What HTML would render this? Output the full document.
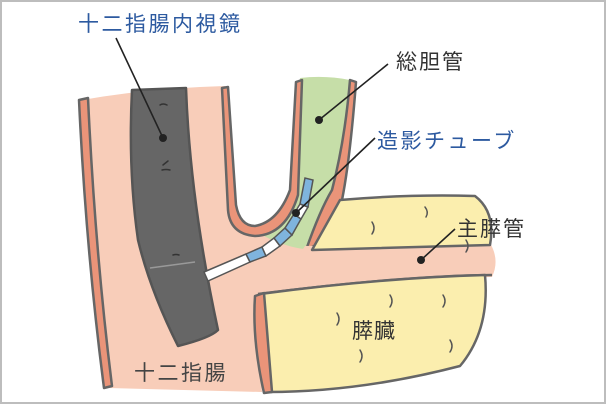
<!DOCTYPE html>
<html><head><meta charset="utf-8"><style>
html,body{margin:0;padding:0;background:#fff;}
svg{display:block;}
text{font-family:"Liberation Sans","Noto Sans CJK JP",sans-serif;font-size:21px;}
</style></head><body>
<svg width="606" height="404" viewBox="0 0 606 404" xmlns="http://www.w3.org/2000/svg">
<rect x="1" y="1" width="604" height="402" fill="#fff" stroke="#bdbdbd" stroke-width="2"/>
<g stroke="#666" stroke-width="2.5" stroke-linejoin="round">
<path d="M82,100 Q150,88 225,86 L232,205 Q238,232 255,232 Q275,228 292,190 L300,80 L350,80 L335,200 L312,248 L340,250 L340,290 L255,297 L262,392 L108,388 Q90,250 82,100 Z" fill="#f8cdb9" stroke="none"/>
<path d="M300,78 Q325,75 350,80 L335,200 L318,250 Q290,250 262,235 Q285,225 292,200 Z" fill="#c6dea8" stroke="none"/>
<path d="M79,100 L88,98 Q95,250 112,386 L104,388 Q86,250 79,100 Z" fill="#ea9479"/>
<path d="M222,88 L228,87 L236,205 Q240,226 255,226 Q278,222 290,190 L296,82 L302,80 L298,195 Q286,235 255,236 Q230,234 228,210 Z" fill="#ea9479"/>
<path d="M350,80 L356,82 Q350,160 342,200 L318,244 L306,250 Q320,210 332,190 Q345,140 350,80 Z" fill="#ea9479"/>
<path d="M305,246 L490,243 Q500,260 492,277 Q400,278 258,296 Q290,270 305,246 Z" fill="#f8cdb9" stroke="none"/>
<path d="M340,200 Q410,194 475,196 Q496,212 490,245 L312,250 Q326,225 340,200 Z" fill="#fbeeae"/>
<path d="M258,294 Q400,276 492,275" fill="none"/>
<path d="M260,294 Q380,278 485,275 Q490,330 460,366 Q360,392 268,392 Z" fill="#fbeeae"/>
<path d="M255,296 L264,293 L272,392 L264,393 Q252,340 255,296 Z" fill="#ea9479"/>
<path d="M132,90 L186,88 Q190,200 218,330 Q210,338 178,346 Q150,290 138,240 Q128,170 132,90 Z" fill="#666" stroke="#555"/>
</g>
<path d="M150,268 L195,262" stroke="#999" stroke-width="1.5"/>
<g stroke="#333" stroke-width="1.5" fill="none" stroke-linecap="round">
<path d="M160,105 q3,-2 7,0"/><path d="M163,165 l5,-4"/><path d="M162,170 q4,-1 8,0"/><path d="M173,255 q3,-1 6,0"/>
</g>
<g stroke="#555" stroke-width="1.5">
<path d="M204,272 L246,254 L250,262 L208,281 Z" fill="#fff"/>
<path d="M246,254 L262,247 L266,256 L250,262 Z" fill="#7fb4de"/>
<path d="M262,247 L274,238 L280,246 L266,256 Z" fill="#fff"/>
<path d="M274,238 L285,228 L292,235 L280,246 Z" fill="#7fb4de"/>
<path d="M285,228 L294,214 L301,219 L292,235 Z" fill="#7fb4de"/>
<path d="M294,214 L300,204 L308,207 L301,219 Z" fill="#fff"/>
<path d="M300,204 L305,178 L313,180 L308,207 Z" fill="#7fb4de"/>
</g>
<g stroke="#555" stroke-width="1.5" fill="none" stroke-linecap="round">
<path d="M372,222 q4,6 0,12"/><path d="M425,207 q4,5 1,10"/><path d="M390,295 q4,6 0,12"/><path d="M443,295 q4,6 0,12"/><path d="M337,313 q4,6 0,12"/><path d="M360,350 q4,6 0,12"/><path d="M450,340 q4,6 0,12"/><path d="M466,240 q4,6 0,12"/>
</g>
<g stroke="#222" stroke-width="1.6">
<line x1="116" y1="38" x2="163" y2="138"/>
<line x1="388" y1="64" x2="319" y2="120"/>
<line x1="375" y1="138" x2="296" y2="213"/>
<line x1="455" y1="229" x2="421" y2="260"/>
</g>
<g fill="#222">
<circle cx="163" cy="138" r="4"/><circle cx="319" cy="120" r="4"/><circle cx="296" cy="213" r="4"/><circle cx="421" cy="260" r="4"/>
</g>
<text x="78" y="31" fill="#2d5aa0" letter-spacing="2.5">十二指腸内視鏡</text>
<text x="396" y="69" fill="#333" letter-spacing="2">総胆管</text>
<text x="377" y="148" fill="#2d5aa0" letter-spacing="2.5">造影チューブ</text>
<text x="457" y="236" fill="#333" letter-spacing="2">主膵管</text>
<text x="352" y="338" fill="#333" letter-spacing="1">膵臓</text>
<text x="134" y="380" fill="#444" letter-spacing="2.5">十二指腸</text>
</svg>
</body></html>
